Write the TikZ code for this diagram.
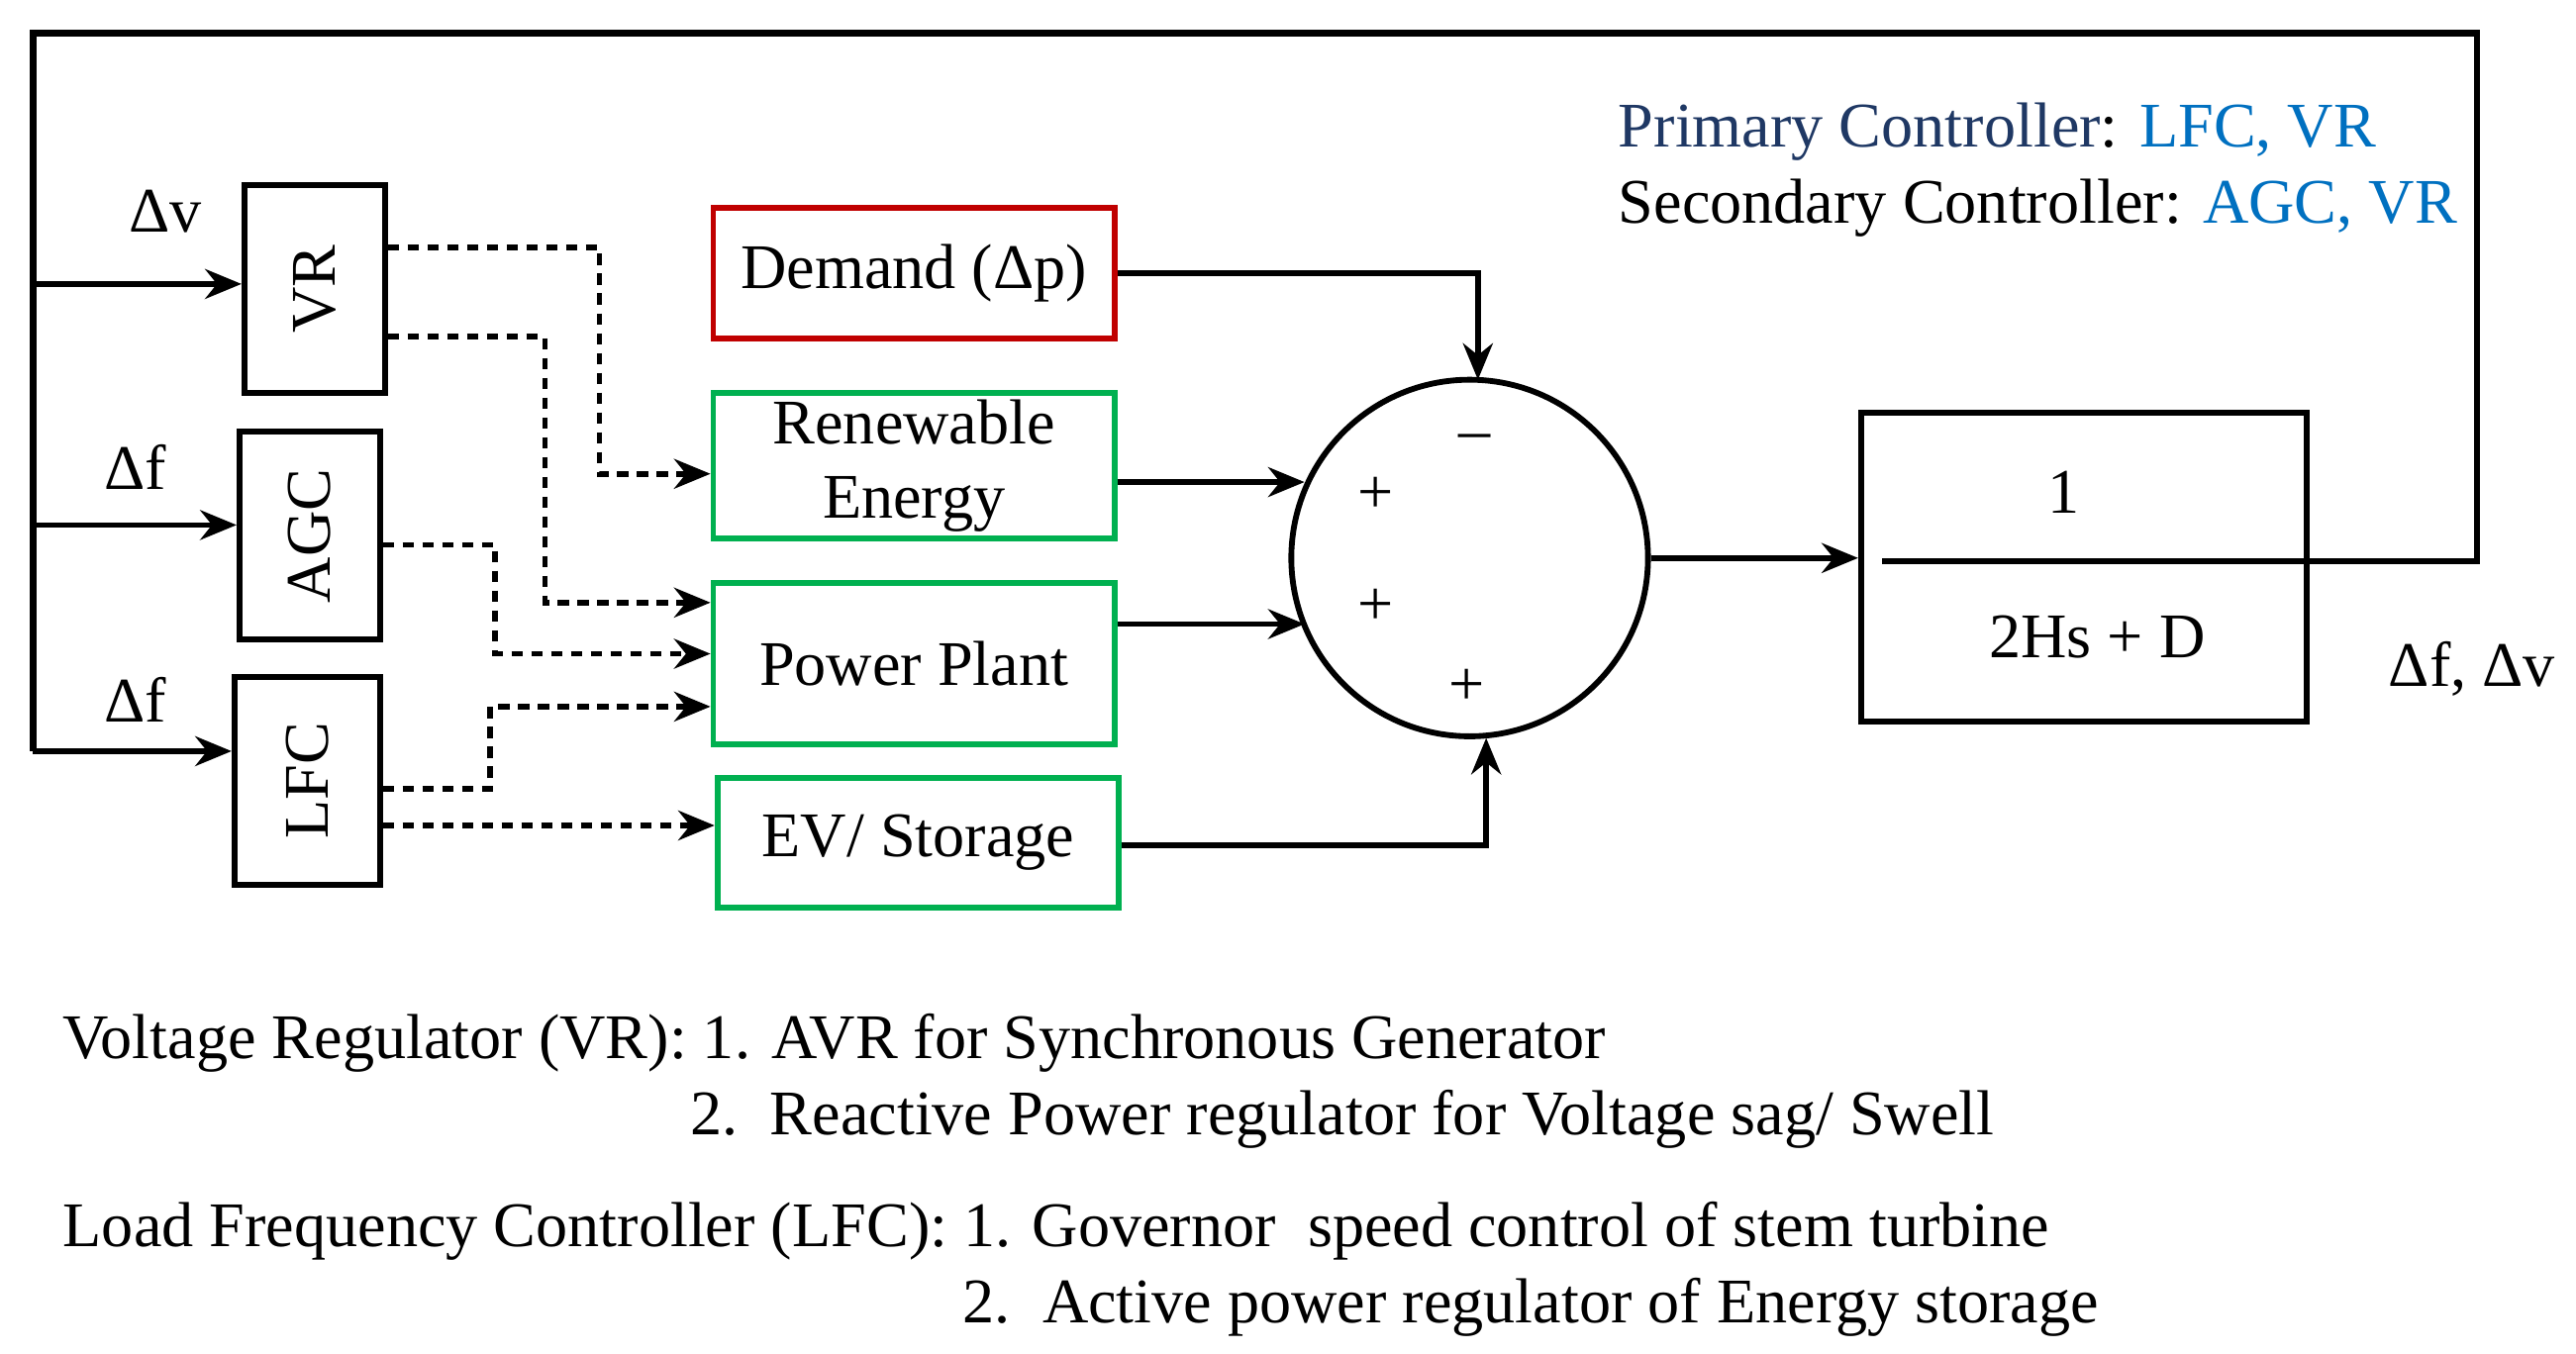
\documentclass[tikz,border=0pt]{standalone}
\usepackage{fontspec}
\setmainfont{Liberation Serif}
\usetikzlibrary{arrows.meta}
\definecolor{navy}{HTML}{1F3864}
\definecolor{lblue}{HTML}{0070C0}
\definecolor{bred}{HTML}{C00000}
\definecolor{bgreen}{HTML}{00B050}
\begin{document}
\begin{tikzpicture}[x=1pt,y=-1pt,
  every node/.style={font=\fontsize{38.5}{44}\selectfont, inner sep=0pt},
  ln/.style={line width=3.5pt},
  arr/.style={ln,-{Stealth[length=22pt,width=18pt]}},
  darr/.style={ln,dash pattern=on 7pt off 5pt,-{Stealth[length=22pt,width=18pt]}},
  ctrl/.style={draw,line width=3.5pt,minimum width=85pt,minimum height=126pt},
  blk/.style={draw,line width=3.5pt,minimum width=243pt,align=center}]
\useasboundingbox (0,0) rectangle (1560,820);
% controllers
\node[ctrl] (vr) at (190.5,175) {};
\node[rotate=90] at (vr) {VR};
\node[ctrl] (agc) at (187.5,324.5) {};
\node[rotate=90] at (agc) {AGC};
\node[ctrl,minimum width=88pt] (lfc) at (186,473) {};
\node[rotate=90] at (lfc) {LFC};
% blocks
\node[blk,draw=bred,minimum height=79pt] (dem) at (553.5,165.5) {Demand (Δp)};
\node[blk,draw=bgreen,minimum height=88pt,font=\fontsize{38.5}{45}\selectfont] (ren) at (553.5,282) {Renewable\\Energy};
\node[blk,draw=bgreen,minimum height=98pt] (pp) at (553.5,402) {Power Plant};
\node[blk,draw=bgreen,minimum height=79pt] (ev) at (556,510.5) {EV/ Storage};
\node[circle,draw,line width=3.5pt,minimum size=216pt] (sum) at (890,338) {};
\node at (893,268) {–};
\node at (833,300) {+};
\node at (833,368) {+};
\node at (888,416) {+};
\node[draw,line width=3.5pt,minimum width=270pt,minimum height=187pt] (tf) at (1262,343.5) {};
\node at (1250,298) {1};
\node at (1270,386) {2Hs + D};
\node at (1497,405) {Δf, Δv};
% feedback
\coordinate (b0) at (1140,340);
\coordinate (c1) at (1500,340);
\coordinate (c2) at (1500,20);
\coordinate (c3) at (20,20);
\coordinate (c4) at (20,455);
\draw[line width=4pt] (b0) -- (c1) -- (c2) -- (c3) -- (c4);
\draw[arr] (c4) -- (lfc.west|-c4);
\draw[arr] (20,172) -- (vr.west|-0,172);
\draw[arr] (20,318) -- (agc.west|-0,318);
\node at (100,128) {Δv};
\node at (82,283) {Δf};
\node at (82,424) {Δf};
% signals into sum
\draw[arr] (dem.east) -| (895,230);
\draw[arr] (ren.east|-0,292) -- (790,292);
\draw[arr] (pp.east|-0,378) -- (790,378);
\draw[arr] (ev.east|-0,512) -| (900,447);
\draw[arr] (sum.east) -- (tf.west|-sum.east);
% dashed
\draw[darr] (vr.east|-0,150) -- (363,150) -- (363,287) -- (ren.west|-0,287);
\draw[darr] (vr.east|-0,204) -- (330,204) -- (330,365) -- (pp.west|-0,365);
\draw[darr] (agc.east|-0,330) -- (300,330) -- (300,396) -- (pp.west|-0,396);
\draw[darr] (lfc.east|-0,478) -- (297,478) -- (297,428) -- (pp.west|-0,428);
\draw[darr] (lfc.east|-0,500) -- (ev.west|-0,500);
% legend
\node[anchor=west] (p1) at (980,80) {\textcolor{navy}{Primary Controller}: \textcolor{lblue}{LFC, VR}};
\node[anchor=west] (p2) at (980,126) {Secondary Controller: \textcolor{lblue}{AGC, VR}};
\node[anchor=west] (t1) at (38,632) {Voltage Regulator (VR): 1. AVR for Synchronous Generator};
\node[anchor=west] (t2) at (418,678) {2.\ \ Reactive Power regulator for Voltage sag/ Swell};
\node[anchor=west] (t3) at (38,746) {Load Frequency Controller (LFC): 1. Governor\ \ speed control of stem turbine};
\node[anchor=west] (t4) at (583,792) {2.\ \ Active power regulator of Energy storage};
\end{tikzpicture}
\end{document}
